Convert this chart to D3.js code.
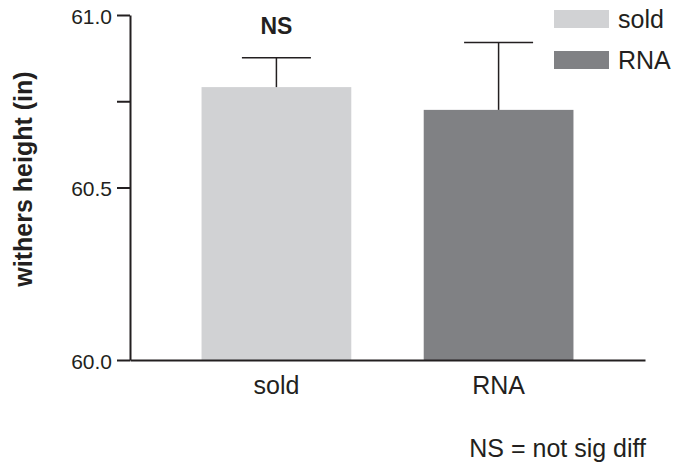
<!DOCTYPE html>
<html>
<head>
<meta charset="utf-8">
<script src="https://cdn.jsdelivr.net/npm/d3@7/dist/d3.min.js"></script>
<style>
  html, body { margin: 0; padding: 0; background: #fff; }
  svg { display: block; font-family: "Liberation Sans", Arial, Helvetica, sans-serif; }
</style>
</head>
<body>
<svg id="chart" width="675" height="466"></svg>
<script>
const categories = ["sold", "RNA"];
const means = [60.791, 60.725];
const errUpper = [60.876, 60.92];
const barColors = ["#d1d2d4", "#808184"];
const yTicks = [60.0, 60.5, 60.75, 61.0];
const yTickLabels = ["60.0", "60.5", "", "61.0"];
const yTitle = "withers height (in)";
const sigLabel = "NS";
const footnote = "NS = not sig diff";

const ink = "#231f20";
const svg = d3.select("#chart");

const x = d3.scaleBand().domain(categories).range([130, 645])
  .paddingInner(0.326).paddingOuter(0.322);
const y = d3.scaleLinear().domain([60, 61]).range([360, 15]);

// bars
svg.selectAll("rect.bar").data(categories).join("rect")
  .attr("class", "bar")
  .attr("x", d => x(d))
  .attr("width", x.bandwidth())
  .attr("y", (d, i) => y(means[i]))
  .attr("height", (d, i) => y(60) - y(means[i]))
  .attr("fill", (d, i) => barColors[i]);

// error bars (upper only)
const capW = 69;
const eb = svg.selectAll("g.err").data(categories).join("g").attr("class", "err")
  .attr("stroke", ink).attr("stroke-width", 1.5);
eb.append("line")
  .attr("x1", d => x(d) + x.bandwidth() / 2).attr("x2", d => x(d) + x.bandwidth() / 2)
  .attr("y1", (d, i) => y(means[i])).attr("y2", (d, i) => y(errUpper[i]));
eb.append("line")
  .attr("x1", d => x(d) + x.bandwidth() / 2 - capW / 2).attr("x2", d => x(d) + x.bandwidth() / 2 + capW / 2)
  .attr("y1", (d, i) => y(errUpper[i])).attr("y2", (d, i) => y(errUpper[i]));

// y axis
const yAxis = d3.axisLeft(y).tickValues(yTicks)
  .tickFormat((d, i) => yTickLabels[i]).tickSize(13).tickSizeOuter(0).tickPadding(5);
const gy = svg.append("g").attr("transform", "translate(130,0)").call(yAxis);
gy.select(".domain").attr("stroke", ink).attr("stroke-width", 2);
gy.selectAll(".tick line").attr("stroke", ink).attr("stroke-width", 2);
gy.selectAll(".tick text").attr("fill", ink).attr("font-size", 21)
  .attr("font-family", "Liberation Sans, Arial, sans-serif").attr("dy", "0.4em");

// x axis
const xAxis = d3.axisBottom(x).tickSize(0).tickSizeOuter(0);
const gx = svg.append("g").attr("transform", "translate(0,360)").call(xAxis);
gx.select(".domain").attr("stroke", ink).attr("stroke-width", 2);
gx.selectAll(".tick text").attr("fill", ink).attr("font-size", 25)
  .attr("font-family", "Liberation Sans, Arial, sans-serif")
  .attr("y", 34).attr("dy", 0);

// y title
svg.append("text")
  .attr("transform", "translate(32,179) rotate(-90)")
  .attr("text-anchor", "middle")
  .attr("font-size", 25).attr("font-weight", "bold").attr("fill", ink)
  .text(yTitle);

// significance label
svg.append("text")
  .attr("x", x(categories[0]) + x.bandwidth() / 2)
  .attr("y", 34)
  .attr("text-anchor", "middle")
  .attr("font-size", 23).attr("font-weight", "bold").attr("fill", ink)
  .text(sigLabel);

// legend
const legY = [10, 51];
const lg = svg.selectAll("g.leg").data(categories).join("g").attr("class", "leg");
lg.append("rect").attr("x", 554).attr("y", (d, i) => legY[i])
  .attr("width", 55).attr("height", 18).attr("fill", (d, i) => barColors[i]);
lg.append("text").attr("x", 618).attr("y", (d, i) => legY[i] + 18)
  .attr("font-size", 25).attr("fill", ink).text(d => d);

// footnote
svg.append("text")
  .attr("x", 646).attr("y", 457).attr("text-anchor", "end")
  .attr("font-size", 25).attr("fill", ink).text(footnote);
</script>
</body>
</html>
